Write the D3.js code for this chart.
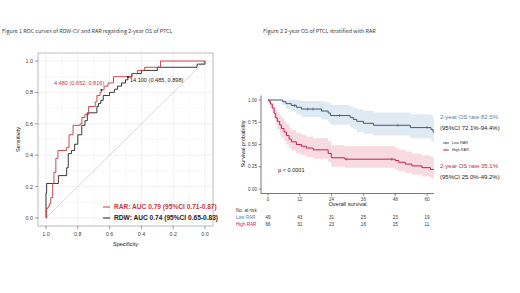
<!DOCTYPE html>
<html>
<head>
<meta charset="utf-8">
<script src="https://cdn.jsdelivr.net/npm/d3@7"></script>
<style>
  body { margin: 0; background: #fff; }
  text { font-family: "Liberation Sans", Arial, sans-serif; }
</style>
</head>
<body>
<div id="chart"></div>
<script>
// ROC data: 1 - specificity (fpr) and sensitivity, one point per step
const rarFpr  = [0, 0.004, 0.012, 0.02, 0.03, 0.042, 0.05, 0.062, 0.075, 0.13, 0.145, 0.17, 0.215, 0.226, 0.245, 0.268, 0.31, 0.32, 0.34, 0.348, 0.365, 0.39, 0.425, 0.54, 0.575, 0.62, 0.72, 1]
const rarSens = [0, 0.06, 0.07, 0.09, 0.13, 0.22, 0.29, 0.38, 0.43, 0.45, 0.53, 0.59, 0.60, 0.64, 0.66, 0.71, 0.74, 0.78, 0.80, 0.816, 0.84, 0.86, 0.90, 0.92, 0.94, 0.96, 1, 1]
const rdwFpr  = [0, 0, 0.004, 0.078, 0.13, 0.14, 0.16, 0.18, 0.2, 0.225, 0.245, 0.26, 0.32, 0.33, 0.345, 0.36, 0.4, 0.43, 0.45, 0.475, 0.5, 0.515, 0.54, 0.6, 0.7, 0.95, 1]
const rdwSens = [0, 0.16, 0.22, 0.27, 0.32, 0.41, 0.43, 0.47, 0.53, 0.59, 0.62, 0.67, 0.71, 0.73, 0.75, 0.78, 0.80, 0.82, 0.84, 0.86, 0.88, 0.898, 0.92, 0.94, 0.96, 0.98, 1]
const rocTicks = [1, 0.8, 0.6, 0.4, 0.2, 0]
const rocLegend = ['RAR: AUC 0.79 (95%CI 0.71-0.87)', 'RDW: AUC 0.74 (95%CI 0.65-0.83)']
const rarThres = {label: '4.480 (0.652, 0.816)', spec: 0.652, sens: 0.816}
const rdwThres = {label: '14.100 (0.485, 0.898)', spec: 0.485, sens: 0.898}

// KM data: months, survival, 95% CI
const lowT  = [0, 5.5, 6.8, 8.8, 10.7, 12.6, 20.2, 22.7, 23.6, 31.0, 32.2, 33.5, 36.0, 39.8, 53.7, 61.5, 62.3, 62.6]
const lowS  = [1, 0.980, 0.959, 0.939, 0.918, 0.898, 0.876, 0.853, 0.825, 0.804, 0.782, 0.760, 0.738, 0.716, 0.690, 0.668, 0.640, 0.640]
const lowLo = [1, 0.94, 0.90, 0.87, 0.84, 0.81, 0.78, 0.75, 0.721, 0.69, 0.67, 0.64, 0.62, 0.60, 0.57, 0.54, 0.51, 0.51]
const lowHi = [1, 1, 1, 1, 1, 0.99, 0.98, 0.965, 0.944, 0.93, 0.91, 0.895, 0.88, 0.86, 0.84, 0.83, 0.80, 0.80]
const highT  = [0, 0.4, 0.9, 1.6, 2.3, 2.9, 3.5, 4.4, 5.05, 6.06, 6.95, 7.96, 8.84, 10.7, 12.6, 14.5, 17.05, 22.7, 23.9, 29.0, 48.0, 49.3, 51.8, 54.3, 58.1, 61.3, 62.6]
const highS  = [1, 0.985, 0.955, 0.91, 0.85, 0.80, 0.76, 0.72, 0.68, 0.64, 0.60, 0.56, 0.53, 0.50, 0.48, 0.46, 0.44, 0.40, 0.351, 0.335, 0.32, 0.30, 0.28, 0.26, 0.24, 0.22, 0.22]
const highLo = [1, 0.96, 0.91, 0.85, 0.78, 0.72, 0.67, 0.62, 0.58, 0.54, 0.50, 0.46, 0.43, 0.40, 0.38, 0.36, 0.34, 0.30, 0.25, 0.24, 0.22, 0.20, 0.18, 0.16, 0.14, 0.12, 0.12]
const highHi = [1, 1, 0.99, 0.97, 0.93, 0.89, 0.86, 0.83, 0.80, 0.76, 0.73, 0.69, 0.66, 0.63, 0.61, 0.59, 0.57, 0.54, 0.492, 0.48, 0.46, 0.44, 0.42, 0.40, 0.38, 0.36, 0.36]
const lowCens  = [10, 15, 17, 27, 49, 60]
const highCens = [29.7, 46.7]
const kmTicksX = [0, 12, 24, 36, 48, 60]
const kmTicksY = [0, 0.25, 0.5, 0.75, 1]
const riskLow  = [49, 43, 31, 25, 23, 19]
const riskHigh = [66, 31, 23, 16, 15, 11]
const groups = ['Low RAR', 'High RAR']

const W = 520, H = 293
const red = '#c8373d', blue = '#3d5a7c', pink = '#c81e55', lblue = '#4f7fae'

let svg = d3.select('#chart').append('svg').attr('width', W).attr('height', H)
svg.append('rect').attr('width', W).attr('height', H).attr('fill', '#fff')

// titles
svg.append('text').attr('x', 2).attr('y', 33)
    .style('font-family', '"Noto Sans CJK JP", sans-serif').style('font-size', '5.4px').attr('fill', '#444')
    .text('Figure 1 ROC curves of RDW-CV and RAR regarding 2-year OS of PTCL')
svg.append('text').attr('x', 263).attr('y', 33)
    .style('font-family', '"Noto Sans CJK JP", sans-serif').style('font-size', '5.4px').attr('fill', '#444')
    .text('Figure 2 2-year OS of PTCL stratified with RAR')

// ---------- ROC ----------
const rx = d3.scaleLinear().domain([1, 0]).range([46, 205])
const ry = d3.scaleLinear().domain([0, 1]).range([218, 61])
const box = {x0: 38, x1: 213, y0: 53, y1: 226}

let roc = svg.append('g')
// minor + major grid
const minor = [0.1, 0.3, 0.5, 0.7, 0.9]
roc.selectAll('.gminx').data(minor).enter().append('line')
    .attr('x1', d => rx(d)).attr('x2', d => rx(d)).attr('y1', box.y0).attr('y2', box.y1)
    .attr('stroke', '#f3f3f3').attr('stroke-width', 0.5)
roc.selectAll('.gminy').data(minor).enter().append('line')
    .attr('y1', d => ry(d)).attr('y2', d => ry(d)).attr('x1', box.x0).attr('x2', box.x1)
    .attr('stroke', '#f3f3f3').attr('stroke-width', 0.5)
roc.selectAll('.gx').data(rocTicks).enter().append('line')
    .attr('x1', d => rx(d)).attr('x2', d => rx(d)).attr('y1', box.y0).attr('y2', box.y1)
    .attr('stroke', '#ebebeb').attr('stroke-width', 0.7)
roc.selectAll('.gy').data(rocTicks).enter().append('line')
    .attr('y1', d => ry(d)).attr('y2', d => ry(d)).attr('x1', box.x0).attr('x2', box.x1)
    .attr('stroke', '#ebebeb').attr('stroke-width', 0.7)

// diagonal
roc.append('line').attr('x1', rx(1)).attr('y1', ry(0)).attr('x2', rx(0)).attr('y2', ry(1))
    .attr('stroke', '#c8c8c8').attr('stroke-width', 0.7)

const rocLine = d3.line().x(d => rx(1 - d[0])).y(d => ry(d[1])).curve(d3.curveStepAfter)
roc.append('path').datum(rdwFpr.map((f, i) => [f, rdwSens[i]]))
    .attr('d', rocLine).attr('fill', 'none').attr('stroke', '#222').attr('stroke-width', 0.9)
roc.append('path').datum(rarFpr.map((f, i) => [f, rarSens[i]]))
    .attr('d', rocLine).attr('fill', 'none').attr('stroke', red).attr('stroke-width', 0.9)

// thresholds
roc.append('circle').attr('cx', rx(rarThres.spec)).attr('cy', ry(rarThres.sens)).attr('r', 0.9).attr('fill', '#222')
roc.append('circle').attr('cx', rx(rdwThres.spec)).attr('cy', ry(rdwThres.sens)).attr('r', 0.9).attr('fill', '#222')
roc.append('text').attr('x', rx(rarThres.spec) + 3).attr('y', ry(rarThres.sens) - 5)
    .attr('text-anchor', 'end').style('font-size', '5.6px').attr('fill', red).text(rarThres.label)
roc.append('text').attr('x', rx(rdwThres.spec) + 2).attr('y', ry(rdwThres.sens) + 5)
    .style('font-size', '5.6px').attr('fill', '#222').text(rdwThres.label)

// panel border
roc.append('rect').attr('x', box.x0).attr('y', box.y0).attr('width', box.x1 - box.x0).attr('height', box.y1 - box.y0)
    .attr('fill', 'none').attr('stroke', '#aaa').attr('stroke-width', 0.8)

// axes
roc.selectAll('.tx').data(rocTicks).enter().append('line')
    .attr('x1', d => rx(d)).attr('x2', d => rx(d)).attr('y1', box.y1).attr('y2', box.y1 + 3)
    .attr('stroke', '#555').attr('stroke-width', 0.6)
roc.selectAll('.tlx').data(rocTicks).enter().append('text')
    .attr('x', d => rx(d)).attr('y', box.y1 + 10).attr('text-anchor', 'middle')
    .style('font-size', '5.4px').attr('fill', '#444').text(d => d.toFixed(1))
roc.selectAll('.ty').data(rocTicks).enter().append('line')
    .attr('y1', d => ry(d)).attr('y2', d => ry(d)).attr('x1', box.x0).attr('x2', box.x0 - 3)
    .attr('stroke', '#555').attr('stroke-width', 0.6)
roc.selectAll('.tly').data(rocTicks).enter().append('text')
    .attr('x', box.x0 - 5).attr('y', d => ry(d) + 2).attr('text-anchor', 'end')
    .style('font-size', '5.4px').attr('fill', '#444').text(d => d.toFixed(1))
roc.append('text').attr('x', (box.x0 + box.x1) / 2).attr('y', 246).attr('text-anchor', 'middle')
    .style('font-size', '5.6px').attr('fill', '#222').text('Specificity')
roc.append('text').attr('transform', 'translate(20,' + ((box.y0 + box.y1) / 2) + ') rotate(-90)')
    .attr('text-anchor', 'middle').style('font-size', '5.6px').attr('fill', '#222').text('Sensitivity')

// legend
const legCols = [red, '#222']
rocLegend.forEach((t, i) => {
    let y = 207 + i * 11
    roc.append('line').attr('x1', 103).attr('x2', 110).attr('y1', y).attr('y2', y)
        .attr('stroke', legCols[i]).attr('stroke-width', 1)
    roc.append('text').attr('x', 114).attr('y', y + 2.3).style('font-size', '6.6px').style('font-weight', 'bold')
        .attr('fill', legCols[i]).text(t)
})

// ---------- KM ----------
const kx = d3.scaleLinear().domain([0, 60]).range([268, 427])
const ky = d3.scaleLinear().domain([0, 1]).range([189, 100])
let km = svg.append('g')

const band = d3.area().x(d => kx(d.t)).y0(d => ky(d.lo)).y1(d => ky(d.hi)).curve(d3.curveStepAfter)
const kmLine = d3.line().x(d => kx(d.t)).y(d => ky(d.s)).curve(d3.curveStepAfter)
const lowData = lowT.map((t, i) => ({t: t, s: lowS[i], lo: lowLo[i], hi: lowHi[i]}))
const highData = highT.map((t, i) => ({t: t, s: highS[i], lo: highLo[i], hi: highHi[i]}))

km.append('path').datum(lowData).attr('d', band).attr('fill', '#dce8f2').attr('opacity', 0.9)
km.append('path').datum(highData).attr('d', band).attr('fill', '#f7d6de').attr('opacity', 0.9)
km.append('path').datum(lowData).attr('d', kmLine).attr('fill', 'none').attr('stroke', blue).attr('stroke-width', 1)
km.append('path').datum(highData).attr('d', kmLine).attr('fill', 'none').attr('stroke', pink).attr('stroke-width', 1)

// censor marks
const survAt = (T, S, t) => S[d3.bisectRight(T, t) - 1]
km.selectAll('.cl').data(lowCens).enter().append('line')
    .attr('x1', d => kx(d)).attr('x2', d => kx(d))
    .attr('y1', d => ky(survAt(lowT, lowS, d)) - 1.5).attr('y2', d => ky(survAt(lowT, lowS, d)) + 1.5)
    .attr('stroke', blue).attr('stroke-width', 0.6)
km.selectAll('.ch').data(highCens).enter().append('line')
    .attr('x1', d => kx(d)).attr('x2', d => kx(d))
    .attr('y1', d => ky(survAt(highT, highS, d)) - 1.5).attr('y2', d => ky(survAt(highT, highS, d)) + 1.5)
    .attr('stroke', pink).attr('stroke-width', 0.6)

// axes
km.append('line').attr('x1', 261).attr('x2', 261).attr('y1', 95.5).attr('y2', 193.5).attr('stroke', '#222').attr('stroke-width', 0.6)
km.append('line').attr('x1', 261).attr('x2', 434).attr('y1', 193.5).attr('y2', 193.5).attr('stroke', '#222').attr('stroke-width', 0.6)
km.selectAll('.kty').data(kmTicksY).enter().append('line')
    .attr('y1', d => ky(d)).attr('y2', d => ky(d)).attr('x1', 261).attr('x2', 258.5).attr('stroke', '#222').attr('stroke-width', 0.5)
km.selectAll('.ktly').data(kmTicksY).enter().append('text')
    .attr('x', 257).attr('y', d => ky(d) + 1.6).attr('text-anchor', 'end')
    .style('font-size', '4.6px').attr('fill', '#444').text(d => d.toFixed(2))
km.selectAll('.ktx').data(kmTicksX).enter().append('line')
    .attr('x1', d => kx(d)).attr('x2', d => kx(d)).attr('y1', 193.5).attr('y2', 196).attr('stroke', '#222').attr('stroke-width', 0.5)
km.selectAll('.ktlx').data(kmTicksX).enter().append('text')
    .attr('x', d => kx(d)).attr('y', 200.5).attr('text-anchor', 'middle')
    .style('font-size', '4.6px').attr('fill', '#444').text(d => d)
km.append('text').attr('x', (kx(0) + kx(60)) / 2).attr('y', 206).attr('text-anchor', 'middle')
    .style('font-size', '5.6px').attr('fill', '#222').text('Overall survival')
km.append('text').attr('transform', 'translate(245,144) rotate(-90)')
    .attr('text-anchor', 'middle').style('font-size', '5.6px').attr('fill', '#222').text('Survival probability')

// p value
km.append('text').attr('x', 278).attr('y', 172).style('font-size', '5.6px').attr('fill', '#222').text('p < 0.0001')

// 2-year annotations
const ann = [
    {y: 119, t: '2-year OS rate 82.5%', c: lblue},
    {y: 129.5, t: '(95%CI 72.1%-94.4%)', c: '#222'},
    {y: 168, t: '2-year OS rate 35.1%', c: pink},
    {y: 178.5, t: '(95%CI 25.0%-49.2%)', c: '#222'}
]
km.selectAll('.ann').data(ann).enter().append('text')
    .attr('x', 440).attr('y', d => d.y).style('font-size', '6px').attr('fill', d => d.c).text(d => d.t)

// legend
const legKm = [blue, pink]
groups.forEach((g, i) => {
    let y = 143 + i * 7
    km.append('line').attr('x1', 443).attr('x2', 449).attr('y1', y).attr('y2', y).attr('stroke', legKm[i]).attr('stroke-width', 0.9)
    km.append('line').attr('x1', 446).attr('x2', 446).attr('y1', y - 1.3).attr('y2', y + 1.3).attr('stroke', legKm[i]).attr('stroke-width', 0.5)
    km.append('text').attr('x', 452).attr('y', y + 1.4).style('font-size', '3.8px').attr('fill', '#333').text(g)
})

// risk table
km.append('text').attr('x', 236).attr('y', 211.5).style('font-size', '4.6px').attr('fill', '#333').text('No. at risk')
const riskRows = [riskLow, riskHigh]
const riskCols = [lblue, pink]
riskRows.forEach((row, i) => {
    let y = 218.5 + i * 7.5
    km.append('text').attr('x', 236).attr('y', y).style('font-size', '4.6px').attr('fill', riskCols[i]).text(groups[i])
    km.selectAll('.r' + i).data(row).enter().append('text')
        .attr('x', (d, j) => kx(kmTicksX[j])).attr('y', y).attr('text-anchor', 'middle')
        .style('font-size', '4.6px').attr('fill', '#333').text(d => d)
})
</script>
</body>
</html>
